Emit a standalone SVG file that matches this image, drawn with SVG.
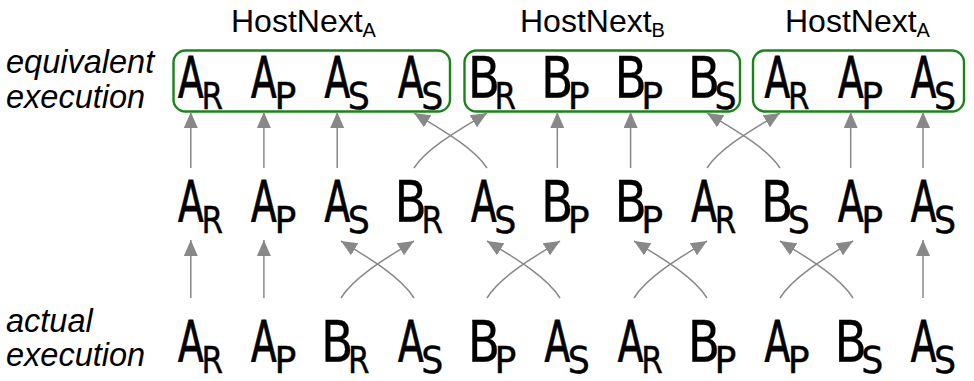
<svg xmlns="http://www.w3.org/2000/svg" width="974" height="381" viewBox="0 0 974 381">
  <style>
    .lbl{font-family:"Liberation Sans",Arial,sans-serif;font-style:italic;font-size:32.5px;fill:#000}
    .hn{font-family:"Liberation Sans",Arial,sans-serif;font-size:32px;fill:#000}
    .hn .s{font-size:20px}
    .big{font-family:"DejaVu Sans",sans-serif;font-size:57.6px;text-anchor:middle;fill:#000;stroke:#000;stroke-width:0.9px}
    .sub{font-family:"DejaVu Sans",sans-serif;font-size:37px;text-anchor:middle;fill:#000;stroke:#000;stroke-width:0.4px}
    .big.A{transform:scale(.65,1)}
    .big.B{transform:scale(.82,1);stroke-width:0.3px}
    .sub.R{transform:translate(21.5px,11px) scale(.84,1)}
    .sub.P{transform:translate(21.5px,11px) scale(.98,1)}
    .sub.S{transform:translate(21.5px,11px) scale(.94,1)}
    .box{fill:none;stroke:#1a841a;stroke-width:2.4}
    .e{fill:none;stroke:#888;stroke-width:1.5;marker-end:url(#ah)}
  </style>
  <defs>
    <marker id="ah" markerUnits="userSpaceOnUse" markerWidth="16" markerHeight="14" refX="16" refY="7" orient="auto">
      <path d="M0,0 L16,7 L0,14 z" fill="#888"/>
    </marker>
  </defs>

  <!-- row labels -->
  <g id="label-equivalent">
    <text class="lbl" x="6" y="73">equivalent</text>
    <text class="lbl" x="6" y="108">execution</text>
  </g>
  <g id="label-actual">
    <text class="lbl" x="6" y="331.5">actual</text>
    <text class="lbl" x="6" y="366">execution</text>
  </g>

  <!-- grouping boxes with titles -->
  <g id="group-a1">
    <rect class="box" x="173.5" y="50.5" width="276.5" height="61" rx="12"/>
    <text class="hn" x="231" y="32">HostNext<tspan class="s" dy="4.5">A</tspan></text>
  </g>
  <g id="group-b">
    <rect class="box" x="464.5" y="50.5" width="275.5" height="61" rx="12"/>
    <text class="hn" x="520" y="32">HostNext<tspan class="s" dy="4.5">B</tspan></text>
  </g>
  <g id="group-a2">
    <rect class="box" x="753" y="50.5" width="211" height="61" rx="12"/>
    <text class="hn" x="785" y="32">HostNext<tspan class="s" dy="4.5">A</tspan></text>
  </g>

  <!-- equivalent execution row -->
  <g id="eq0" transform="translate(190.8 98)"><text class="big A">A</text><text class="sub R">R</text></g>
  <g id="eq1" transform="translate(263.9 98)"><text class="big A">A</text><text class="sub P">P</text></g>
  <g id="eq2" transform="translate(337.2 98)"><text class="big A">A</text><text class="sub S">S</text></g>
  <g id="eq3" transform="translate(410.8 98)"><text class="big A">A</text><text class="sub S">S</text></g>
  <g id="eq4" transform="translate(483.9 98)"><text class="big B">B</text><text class="sub R">R</text></g>
  <g id="eq5" transform="translate(557.3 98)"><text class="big B">B</text><text class="sub P">P</text></g>
  <g id="eq6" transform="translate(630.6 98)"><text class="big B">B</text><text class="sub P">P</text></g>
  <g id="eq7" transform="translate(704 98)"><text class="big B">B</text><text class="sub S">S</text></g>
  <g id="eq8" transform="translate(777.3 98)"><text class="big A">A</text><text class="sub R">R</text></g>
  <g id="eq9" transform="translate(850.7 98)"><text class="big A">A</text><text class="sub P">P</text></g>
  <g id="eq10" transform="translate(923.5 98)"><text class="big A">A</text><text class="sub S">S</text></g>

  <!-- intermediate row -->
  <g id="mid0" transform="translate(190.8 222)"><text class="big A">A</text><text class="sub R">R</text></g>
  <g id="mid1" transform="translate(263.9 222)"><text class="big A">A</text><text class="sub P">P</text></g>
  <g id="mid2" transform="translate(337.2 222)"><text class="big A">A</text><text class="sub S">S</text></g>
  <g id="mid3" transform="translate(410.8 222)"><text class="big B">B</text><text class="sub R">R</text></g>
  <g id="mid4" transform="translate(483.9 222)"><text class="big A">A</text><text class="sub S">S</text></g>
  <g id="mid5" transform="translate(557.3 222)"><text class="big B">B</text><text class="sub P">P</text></g>
  <g id="mid6" transform="translate(630.6 222)"><text class="big B">B</text><text class="sub P">P</text></g>
  <g id="mid7" transform="translate(704 222)"><text class="big A">A</text><text class="sub R">R</text></g>
  <g id="mid8" transform="translate(777.3 222)"><text class="big B">B</text><text class="sub S">S</text></g>
  <g id="mid9" transform="translate(850.7 222)"><text class="big A">A</text><text class="sub P">P</text></g>
  <g id="mid10" transform="translate(923.5 222)"><text class="big A">A</text><text class="sub S">S</text></g>

  <!-- actual execution row -->
  <g id="act0" transform="translate(190.8 362)"><text class="big A">A</text><text class="sub R">R</text></g>
  <g id="act1" transform="translate(263.9 362)"><text class="big A">A</text><text class="sub P">P</text></g>
  <g id="act2" transform="translate(337.2 362)"><text class="big B">B</text><text class="sub R">R</text></g>
  <g id="act3" transform="translate(410.8 362)"><text class="big A">A</text><text class="sub S">S</text></g>
  <g id="act4" transform="translate(483.9 362)"><text class="big B">B</text><text class="sub P">P</text></g>
  <g id="act5" transform="translate(557.3 362)"><text class="big A">A</text><text class="sub S">S</text></g>
  <g id="act6" transform="translate(630.6 362)"><text class="big A">A</text><text class="sub R">R</text></g>
  <g id="act7" transform="translate(704 362)"><text class="big B">B</text><text class="sub P">P</text></g>
  <g id="act8" transform="translate(777.3 362)"><text class="big A">A</text><text class="sub P">P</text></g>
  <g id="act9" transform="translate(850.7 362)"><text class="big B">B</text><text class="sub S">S</text></g>
  <g id="act10" transform="translate(923.5 362)"><text class="big A">A</text><text class="sub S">S</text></g>

  <!-- connectors -->
  <g id="connectors">
    <!-- intermediate -> equivalent, straight -->
    <path class="e" d="M190.8,168 V112"/>
    <path class="e" d="M263.9,168 V112"/>
    <path class="e" d="M337.2,168 V112"/>
    <path class="e" d="M557.3,168 V112"/>
    <path class="e" d="M630.6,168 V112"/>
    <path class="e" d="M850.7,168 V112"/>
    <path class="e" d="M923,168 V112"/>
    <!-- intermediate -> equivalent, swapped pairs -->
    <path class="e" d="M414,168 C427,148 459,130 487,113"/>
    <path class="e" d="M487,168 C474,148 442,130 414,113"/>
    <path class="e" d="M707,168 C720,148 752,130 780,113"/>
    <path class="e" d="M780,168 C767,148 735,130 707,113"/>
    <!-- actual -> intermediate, straight -->
    <path class="e" d="M190.8,298 V240"/>
    <path class="e" d="M263.9,298 V240"/>
    <path class="e" d="M923,298 V240"/>
    <!-- actual -> intermediate, swapped pairs -->
    <path class="e" d="M341,298 C354,277 386,258 414,241"/>
    <path class="e" d="M414,298 C401,277 369,258 341,241"/>
    <path class="e" d="M487,298 C500,277 532,258 560,241"/>
    <path class="e" d="M560,298 C547,277 515,258 487,241"/>
    <path class="e" d="M634,298 C647,277 679,258 707,241"/>
    <path class="e" d="M707,298 C694,277 662,258 634,241"/>
    <path class="e" d="M780,298 C793,277 825,258 853,241"/>
    <path class="e" d="M853,298 C840,277 808,258 780,241"/>
  </g>
</svg>
